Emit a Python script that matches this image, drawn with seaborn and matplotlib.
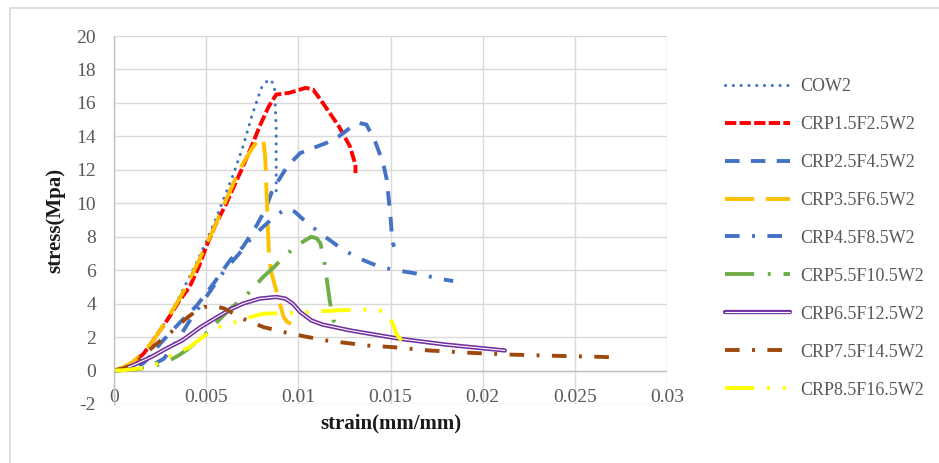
import matplotlib
matplotlib.use("Agg")
import matplotlib.pyplot as plt
import matplotlib.patheffects as pe
from matplotlib.patches import Rectangle
import seaborn as sns

# stress-strain data (strain in mm/mm, stress in MPa)
cow2_x = [0, 0.0005, 0.001, 0.0015, 0.002, 0.0025, 0.003, 0.0035, 0.004, 0.0045, 0.005, 0.0055, 0.006,
          0.0065, 0.007, 0.0075, 0.008, 0.0083, 0.0085, 0.0087, 0.0088, 0.0088]
cow2_y = [0, 0.1, 0.4, 0.9, 1.6, 2.4, 3.3, 4.3, 5.4, 6.5, 7.7, 9.0, 10.4, 11.8, 13.4, 15.3, 16.9, 17.3, 17.4,
          17.0, 14.5, 10.5]

crp1_x = [0, 0.0005, 0.001, 0.0016, 0.002, 0.0025, 0.003, 0.0035, 0.0041, 0.0046, 0.005, 0.0055, 0.0061,
          0.0065, 0.007, 0.0075, 0.0079, 0.0084, 0.0088, 0.0095, 0.0104, 0.0108, 0.0112, 0.0117, 0.0122,
          0.0128, 0.0131, 0.0131]
crp1_y = [0, 0.15, 0.45, 1.0, 1.6, 2.4, 3.2, 4.1, 5.0, 6.2, 7.4, 8.7, 10.0, 11.0, 12.2, 13.5, 14.6, 15.8,
          16.5, 16.6, 16.9, 16.8, 16.2, 15.4, 14.6, 13.4, 12.3, 11.8]

crp2_x = [0, 0.001, 0.0016, 0.002, 0.0025, 0.003, 0.0036, 0.0045, 0.0054, 0.0063, 0.007, 0.0077, 0.0082,
          0.0086, 0.0094, 0.0101, 0.0108, 0.0115, 0.0122, 0.0128, 0.0133, 0.0137, 0.0142, 0.0146, 0.0148,
          0.015, 0.0151, 0.0152]
crp2_y = [0, 0.1, 0.45, 0.9, 1.6, 2.2, 2.9, 3.9, 5.2, 6.6, 7.4, 8.6, 9.6, 10.8, 12.2, 13.0, 13.3, 13.6,
          14.0, 14.5, 14.8, 14.7, 13.6, 12.4, 11.4, 9.2, 7.7, 7.4]

crp3_x = [0, 0.0005, 0.001, 0.0015, 0.002, 0.0025, 0.003, 0.0035, 0.004, 0.0047, 0.0055, 0.006, 0.0068,
          0.0075, 0.0079, 0.0081, 0.0082, 0.0083, 0.0084, 0.0085, 0.0087, 0.009, 0.0092, 0.0094, 0.0096]
crp3_y = [0, 0.2, 0.5, 1.0, 1.6, 2.4, 3.3, 4.2, 5.2, 6.8, 8.7, 10.0, 12.0, 13.3, 13.9, 13.8, 12.8, 10.0,
          7.0, 6.0, 5.2, 4.0, 3.2, 2.9, 2.8]

crp4_x = [0, 0.001, 0.002, 0.0027, 0.0035, 0.004, 0.005, 0.006, 0.0068, 0.0075, 0.0082, 0.0088, 0.0094,
          0.0098, 0.0103, 0.0112, 0.0122, 0.0131, 0.0144, 0.0153, 0.0164, 0.0176, 0.0184]
crp4_y = [0, 0.05, 0.3, 0.7, 1.9, 2.8, 4.4, 6.0, 7.0, 8.0, 8.7, 9.3, 9.7, 9.5, 9.0, 8.2, 7.4, 6.8, 6.2,
          6.0, 5.8, 5.5, 5.35]

crp5_x = [0, 0.001, 0.002, 0.0025, 0.003, 0.0035, 0.0039, 0.0047, 0.0055, 0.0063, 0.0071, 0.0081, 0.0087,
          0.0093, 0.0101, 0.0107, 0.011, 0.0112, 0.0114, 0.0115, 0.0117, 0.0119, 0.0122]
crp5_y = [0, 0.05, 0.2, 0.4, 0.6, 0.9, 1.2, 1.9, 2.8, 3.7, 4.4, 5.6, 6.2, 6.9, 7.6, 8.0, 7.9, 7.6, 6.6,
          5.8, 4.2, 3.0, 2.6]

crp6_x = [0, 0.0005, 0.001, 0.0015, 0.002, 0.0029, 0.0037, 0.0047, 0.0056, 0.0063, 0.007, 0.0079, 0.0088,
          0.0093, 0.0097, 0.0101, 0.0107, 0.0113, 0.0128, 0.0144, 0.0155, 0.018, 0.0212]
crp6_y = [0, 0.1, 0.3, 0.55, 0.8, 1.35, 1.8, 2.6, 3.2, 3.65, 4.0, 4.3, 4.4, 4.3, 4.0, 3.5, 3.0, 2.75, 2.4,
          2.1, 1.9, 1.55, 1.2]

crp7_x = [0, 0.0005, 0.001, 0.0015, 0.0022, 0.0031, 0.0039, 0.0045, 0.0049, 0.0055, 0.006, 0.0065, 0.007,
          0.0081, 0.0092, 0.0103, 0.0115, 0.0126, 0.0137, 0.0151, 0.0171, 0.0195, 0.0216, 0.024, 0.0263,
          0.0274]
crp7_y = [0, 0.1, 0.35, 0.8, 1.5, 2.3, 3.1, 3.6, 3.8, 3.85, 3.7, 3.4, 3.1, 2.6, 2.3, 2.05, 1.8, 1.65, 1.5,
          1.4, 1.2, 1.05, 0.95, 0.88, 0.82, 0.78]

crp8_x = [0, 0.0005, 0.001, 0.0015, 0.0023, 0.003, 0.0041, 0.0048, 0.0057, 0.0066, 0.0074, 0.0081, 0.0096,
          0.0104, 0.0122, 0.0138, 0.0144, 0.0148, 0.015, 0.0152, 0.0153, 0.0156]
crp8_y = [0, 0.02, 0.08, 0.15, 0.4, 0.85, 1.4, 2.0, 2.6, 2.9, 3.2, 3.4, 3.45, 3.5, 3.6, 3.65, 3.6, 3.4,
          3.1, 2.6, 2.2, 1.8]

names = ["COW2", "CRP1.5F2.5W2", "CRP2.5F4.5W2", "CRP3.5F6.5W2", "CRP4.5F8.5W2",
         "CRP5.5F10.5W2", "CRP6.5F12.5W2", "CRP7.5F14.5W2", "CRP8.5F16.5W2"]
xs = [cow2_x, crp1_x, crp2_x, crp3_x, crp4_x, crp5_x, crp6_x, crp7_x, crp8_x]
ys = [cow2_y, crp1_y, crp2_y, crp3_y, crp4_y, crp5_y, crp6_y, crp7_y, crp8_y]
colors = ["#4472C4", "#FF0000", "#4472C4", "#FFC000", "#4472C4",
          "#70AD47", "#7030A0", "#9E480E", "#FFFF00"]
# excel-like dash patterns (in linewidth units)
dashes = [(0.05, 2.5), (2.9, 0.85), (3.75, 2.9), (7.5, 3.0), (3.75, 3.2, 0.75, 3.2),
          (7.5, 3.5, 0.75, 3.3), None, (3.75, 3.2, 0.75, 3.2), (7.5, 3.3, 0.75, 3.3, 0.75, 3.3)]

sns.set_style("whitegrid", {"grid.color": "#D9D9D9"})
plt.rcParams['font.family'] = ['Liberation Serif', 'DejaVu Serif']
plt.rcParams['axes.unicode_minus'] = False

fig = plt.figure(figsize=(9.39, 4.63), dpi=100)
ax = fig.add_axes([114 / 939, 1 - 404 / 463, 553 / 939, 368 / 463])

for x, y, name, c, d in zip(xs, ys, names, colors, dashes):
    if d is None:
        # double line for CRP6.5F12.5W2
        sns.lineplot(x=x, y=y, sort=False, estimator=None, color="white", linewidth=0.8, ax=ax, label=name)
        ln = ax.lines[-1]
        ln.set_path_effects([pe.Stroke(linewidth=3.1, foreground=c), pe.Normal()])
    else:
        lw = 2.2 if name == "COW2" else 2.8
        sns.lineplot(x=x, y=y, sort=False, estimator=None, color=c, linewidth=lw, ax=ax, label=name)
        ln = ax.lines[-1]
        ln.set_linestyle((0, d))
        if name == "COW2":
            ln.set_dash_capstyle("round")

ax.axhline(0, color="#BFBFBF", lw=1.0, zorder=1)

ax.set_xlim(0, 0.03)
ax.set_ylim(-2, 20)
ax.set_xticks([0, 0.005, 0.01, 0.015, 0.02, 0.025, 0.03])
ax.set_xticklabels(["0", "0.005", "0.01", "0.015", "0.02", "0.025", "0.03"])
ax.set_yticks(range(-2, 21, 2))
ax.tick_params(axis="x", length=0, pad=-11, labelsize=14, labelcolor="#595959")
ax.tick_params(axis="y", length=0, pad=13, labelsize=14, labelcolor="#595959")
ax.grid(True, color="#D9D9D9", lw=1.0)

for s in ["top", "right", "bottom"]:
    ax.spines[s].set_visible(False)
ax.spines["left"].set_color("#BFBFBF")
ax.spines["left"].set_linewidth(1.0)

ax.set_xlabel("strain(mm/mm)", fontsize=15, fontweight="bold", color="#1a1a1a")
ax.set_ylabel("stress(Mpa)", fontsize=15, fontweight="bold", color="#1a1a1a")
ax.xaxis.set_label_coords(0.5, -0.025)
ax.yaxis.set_label_coords(-0.088, 0.5)

ax.legend(loc="upper left", bbox_to_anchor=(725 / 939, 1 - 78 / 463), bbox_transform=fig.transFigure,
          frameon=False, fontsize=13, handlelength=3.6, handletextpad=0.55, labelspacing=1.16,
          borderpad=0, borderaxespad=0, labelcolor="#595959")

fig.patches.append(Rectangle((10 / 939, -0.1), 1.2, 1.1 - 8 / 463, transform=fig.transFigure,
                             fill=False, edgecolor="#D9D9D9", lw=1.2))

plt.savefig("out.png", dpi=100)
